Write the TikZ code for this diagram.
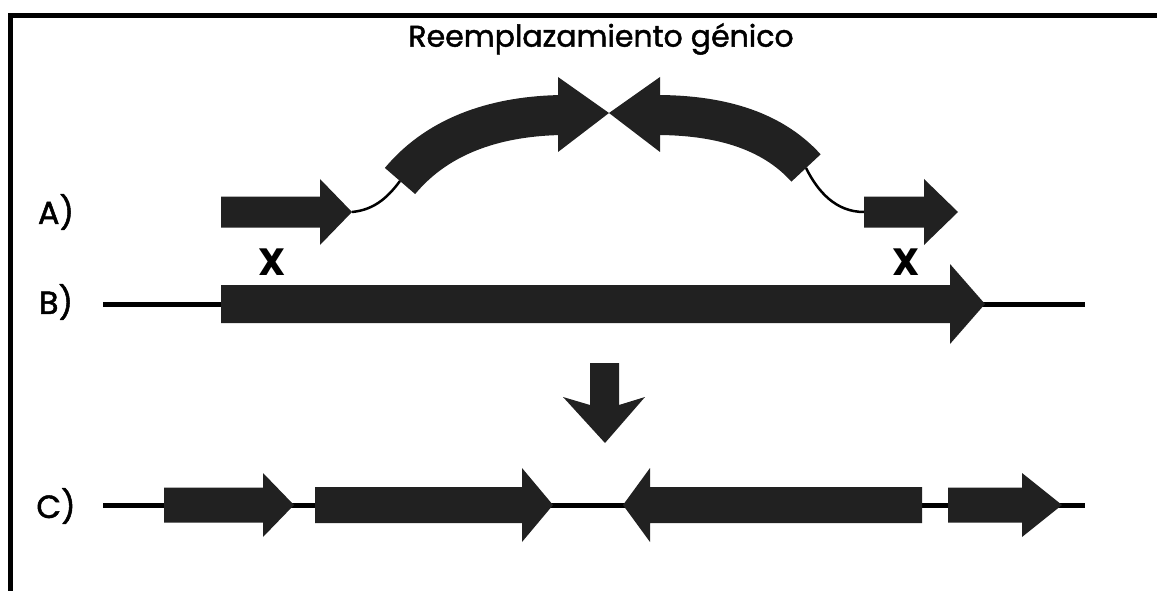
\documentclass[tikz,border=0pt]{standalone}
\usepackage{fontspec}
\setmainfont{Poppins}
\newfontfamily\comic[FakeBold=1.6]{Poppins}
\newcommand\garrowR[7]{% name, x start, x head base, x tip, y centre, half shaft, half head
  \fill[gene] ({#2},{#5-#6}) -- ({#3},{#5-#6}) -- ({#3},{#5-#7}) -- ({#4},{#5}) -- ({#3},{#5+#7}) -- ({#3},{#5+#6}) -- ({#2},{#5+#6}) -- cycle;
  \coordinate (#1-s) at ({#2},{#5});
  \coordinate (#1-t) at ({#4},{#5});}
\begin{document}
\begin{tikzpicture}[x=1pt,y=-1pt,
  gene/.style={fill=black!87,draw=none},
  band/.style={draw=black!87,line width=40pt},
  dna/.style={line width=5pt,black},
  link/.style={line width=2.5pt,black},
  lbl/.style={font=\comic\fontsize{32}{32}\selectfont,anchor=center,inner sep=0pt},
  cross/.style={font=\bfseries\fontsize{38}{38}\selectfont,anchor=center,inner sep=0pt},
]
\useasboundingbox (0,0) rectangle (1157,591);
\draw[line width=5pt] (10.5,591) -- (10.5,15.5) -- (1157,15.5);

\node[font=\comic\fontsize{30}{30}\selectfont,inner sep=0pt] (title) at (601,39) {Reemplazamiento génico};

% labels
\node[lbl] (la) at (56,212) {A)};
\node[lbl] (lb) at (56,302) {B)};
\node[lbl] (lc) at (56,506) {C)};

% row A
\garrowR{a1}{221}{320}{352}{212}{15.5}{33}
\garrowR{a2}{864}{924}{958}{212}{15.5}{33}
\coordinate (arcL-s) at (400,181);
\coordinate (arcL-e) at (562,115);
\coordinate (arcR-s) at (806,168);
\coordinate (arcR-e) at (656,115);
\coordinate (meet) at (609,113);
\draw[band] (arcL-s) .. controls (440,133) and (500,116) .. (arcL-e);
\fill[gene] (558,77) -- (meet) -- (558,152) -- cycle;
\draw[band] (arcR-s) .. controls (770,128) and (715,115) .. (arcR-e);
\fill[gene] (660,77) -- (meet) -- (660,152) -- cycle;
\draw[link] (a1-t) .. controls (372,210) and (386,200) .. (arcL-s);
\draw[link] (arcR-s) .. controls (818,192) and (836,212) .. (a2-s);

% crossover marks
\node[cross] (x1) at (272,262) {X};
\node[cross] (x2) at (906,262) {X};

% row B
\coordinate (b-l) at (103,304);
\coordinate (b-r) at (1085,304);
\draw[dna] (b-l) -- (b-r);
\garrowR{b1}{221}{950}{985}{304}{19}{40}

% down arrow
\fill[gene] (590,363) -- (619,363) -- (619,405) -- (645,397) -- (605,443) -- (563,397) -- (590,405) -- cycle;

% row C
\coordinate (c-l) at (103,505);
\coordinate (c-r) at (1085,505);
\draw[dna] (c-l) -- (c-r);
\garrowR{c1}{164}{263}{294}{505}{17.5}{32}
\garrowR{c2}{315}{522}{553}{505}{18}{37}
\garrowR{c3}{922}{650}{623}{505}{18}{37}
\garrowR{c4}{948}{1022}{1062}{505}{17.5}{32}
\end{tikzpicture}
\end{document}
